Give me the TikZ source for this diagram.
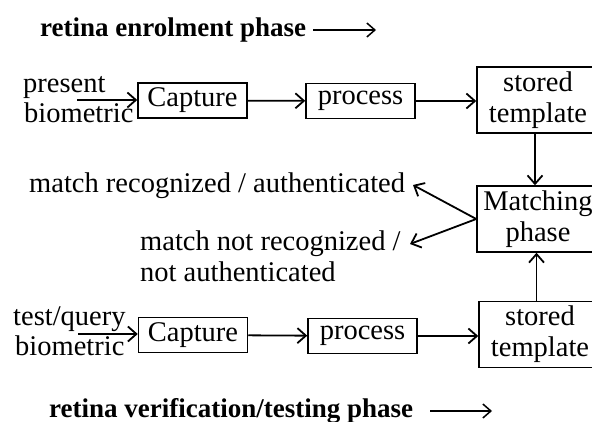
\documentclass[tikz,border=0pt]{standalone}
\usepackage{fontspec}
\setmainfont{Liberation Serif}
\usetikzlibrary{arrows.meta}

\tikzset{
  txt/.style={font=\fontsize{28.5}{31}\selectfont},
  box/.style={draw, line width=1.5pt, inner sep=0pt, minimum width=109pt,
    minimum height=35pt, txt},
  tallbox/.style={draw, line width=1.5pt, inner sep=0pt, minimum width=122pt,
    minimum height=66pt, align=center, txt},
  lbl/.style={anchor=base west, inner sep=0pt, txt},
  ttl/.style={anchor=base west, inner sep=0pt, font=\fontsize{27}{31}\selectfont\bfseries},
  arr/.style={line width=1.8pt, -{Straight Barb[length=8.5pt,width=15pt]}},
  tarr/.style={line width=1.5pt, -{Straight Barb[length=8pt,width=14pt]}},
}

\begin{document}
\begin{tikzpicture}[x=1pt,y=-1pt]
  \useasboundingbox (0,0) rectangle (592,422);

  % enrolment phase
  \node[ttl] (t1) at (40,36.7) {retina enrolment phase};
  \coordinate (t1s) at (313,30);
  \coordinate (t1e) at (376,30);
  \draw[tarr] (t1s) -- (t1e);

  \node[lbl] (pres) at (23,93) {present};
  \node[lbl] (bio1) at (24,122.7) {biometric};
  \coordinate (in1) at (77,100);

  \node[box] (cap1) at (192.5,100.5) {Capture};
  \node[box] (pro1) at (360.5,101) {process};
  \node[tallbox] (sto1) at (538,100) {stored\\template};

  \draw[arr] (in1) -- (in1 -| cap1.west);
  \draw[arr] (cap1) -- (pro1);
  \draw[arr] (pro1) -- (pro1 -| sto1.west);

  % matching
  \node[tallbox] (mat) at (538,219) {Matching\\phase};
  \draw[arr] ([xshift=-3pt]sto1.south) -- ([xshift=-3pt]sto1.south |- mat.north);

  \node[lbl] (rec) at (29,193) {match recognized / authenticated};
  \node[lbl] (nrec1) at (140,251) {match not recognized /};
  \node[lbl] (nrec2) at (140,281) {not authenticated};
  \coordinate (mfork) at (mat.west);
  \coordinate (recTip) at (413,185);
  \coordinate (nrecTip) at (410,244);
  \draw[arr] (mfork) -- (recTip);
  \draw[arr] (mfork) -- (nrecTip);

  % verification phase
  \node[lbl] (test) at (13,325) {test/query};
  \node[lbl] (bio2) at (15,355) {biometric};
  \coordinate (in2) at (78,334);

  \node[box] (cap2) at (193,335) {Capture};
  \node[box] (pro2) at (362.5,336) {process};
  \node[tallbox] (sto2) at (540,334.5) {stored\\template};

  \draw[arr] (in2) -- (in2 -| cap2.west);
  \draw[arr] (cap2) -- (pro2);
  \draw[arr] (pro2) -- (pro2 -| sto2.west);
  \draw[arr] ([xshift=-3.5pt]sto2.north) -- ([xshift=-3.5pt]sto2.north |- mat.south);

  \node[ttl] (t2) at (49,417) {retina verification/testing phase};
  \coordinate (t2s) at (430,411);
  \coordinate (t2e) at (492,411);
  \draw[tarr] (t2s) -- (t2e);
\end{tikzpicture}
\end{document}
